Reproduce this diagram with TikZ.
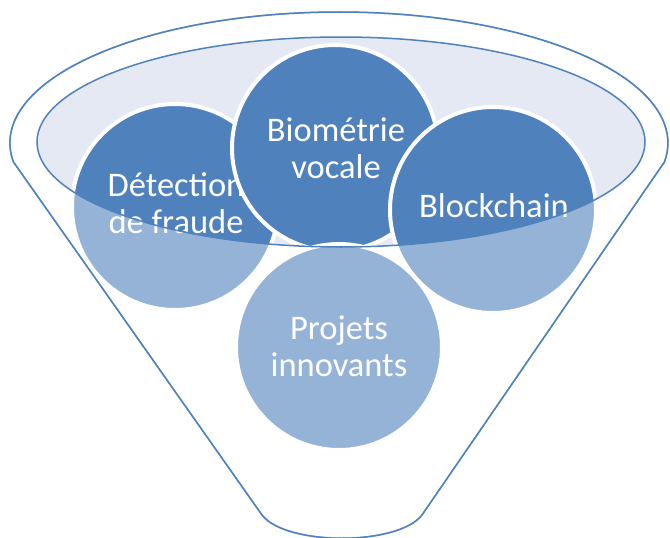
\documentclass[tikz,border=0pt]{standalone}
\usepackage{fontspec}
\setmainfont{Carlito}
\definecolor{accent}{HTML}{4F81BD}
\definecolor{rimfill}{RGB}{228,233,243}
\tikzset{
  funnelline/.style={draw=accent, line width=1.5pt},
  bubble/.style={circle, draw=white, line width=4pt, fill=accent, minimum size=206pt, inner sep=0pt},
  bubbletext/.style={text=white, align=center, font=\fontsize{34.5}{36.6}\selectfont, inner sep=0pt}
}
\begin{document}
\begin{tikzpicture}[x=1pt,y=-1pt]
\useasboundingbox (0,0) rectangle (670,538);
% funnel body
\path[fill=white, funnelline] (13.4,161.9) arc[start angle=171.7, end angle=368.3, x radius=329, y radius=131]
  -- (422,515) .. controls (398,546) and (286,546) .. (262,515) -- cycle;
% inner rim
\fill[rimfill] (341,142) ellipse[x radius=304, y radius=105];
% bubbles
\node[bubble] (detect) at (175,207) {};
\node[bubbletext] (detecttxt) at (176,203) {Détection\\de fraude};
\node[bubble] (bio) at (335,148) {};
\node[bubbletext] (biotxt) at (336,148) {Biométrie\\vocale};
\node[bubble] (proj) at (339,347) {};
\node[bubbletext] (projtxt) at (339,346.5) {Projets\\innovants};
\node[bubble] (block) at (493,210) {};
\node[bubbletext] (blocktxt) at (494,206) {Blockchain};
% translucent front face of the funnel
\fill[white, opacity=0.4, even odd rule] (0,0) rectangle (670,538) (341,142) ellipse[x radius=304, y radius=105];
% outlines on top
\draw[funnelline] (341,142) ellipse[x radius=304, y radius=105];
\draw[funnelline] (13.4,161.9) arc[start angle=171.7, end angle=368.3, x radius=329, y radius=131]
  -- (422,515) .. controls (398,546) and (286,546) .. (262,515) -- cycle;
\end{tikzpicture}
\end{document}
